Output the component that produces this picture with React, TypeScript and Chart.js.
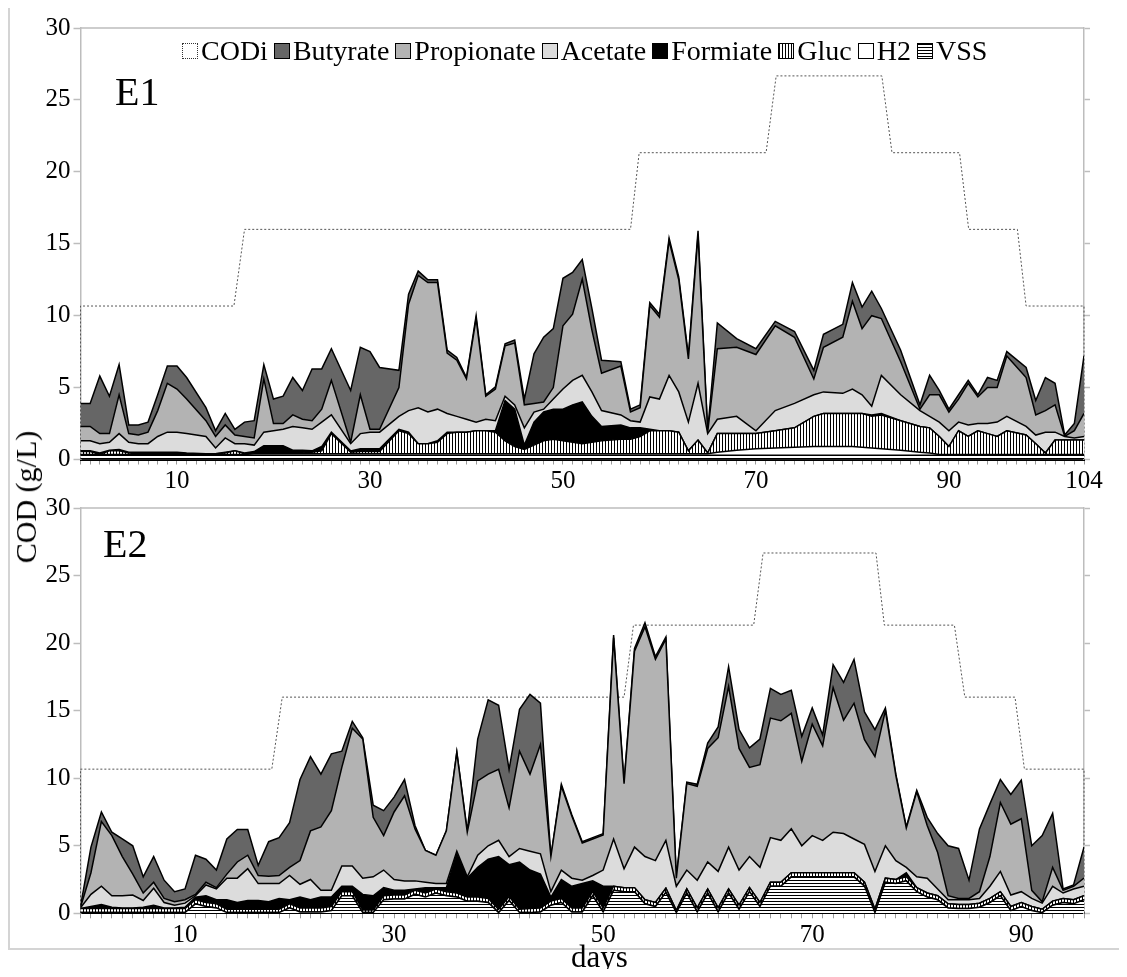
import React, { useEffect, useRef } from "react";
import { Chart, registerables } from "chart.js";
Chart.register(...registerables);

const FONT = "'Liberation Serif', 'Times New Roman', serif";

// ---------------- E1 data (days, g/L COD) ----------------
const E1_DAYS = [0,1,2,3,4,5,6,7,8,9,10,11,
  13,14,15,16,17,18,19,20,21,22,23,24,25,26,
  28,29,30,31,
  33,34,35,36,37,38,39,40,41,42,43,44,45,46,47,48,49,50,51,52,53,54,
  56,57,58,59,60,61,62,63,64,65,66,
  68,70,72,74,76,77,
  79,80,81,82,83,
  85,
  87,88,89,90,91,92,93,94,95,96,
  98,99,100,101,102,103,104];
const E1_VSS = [0.3,0.3,0.3,0.3,0.3,0.3,0.3,0.3,0.3,0.3,0.3,0.3,
  0.3,0.3,0.3,0.3,0.3,0.3,0.3,0.3,0.3,0.3,0.3,0.3,0.3,0.3,
  0.3,0.3,0.3,0.3,
  0.3,0.3,0.3,0.3,0.3,0.3,0.3,0.3,0.3,0.3,0.3,0.3,0.3,0.3,0.3,0.3,0.3,0.3,0.3,0.3,0.3,0.3,
  0.3,0.3,0.3,0.3,0.3,0.3,0.3,0.3,0.3,0.3,0.3,
  0.3,0.3,0.3,0.3,0.3,0.3,
  0.3,0.3,0.3,0.3,0.3,
  0.3,
  0.3,0.3,0.3,0.3,0.3,0.3,0.3,0.3,0.3,0.3,
  0.3,0.3,0.3,0.3,0.3,0.3,0.3];
const E1_H2 = [0.05,0.05,0.05,0.05,0.05,0.05,0.05,0.05,0.05,0.05,0.05,0.05,
  0.05,0.05,0.05,0.05,0.05,0.1,0.1,0.1,0.1,0.1,0.1,0.1,0.1,0.1,
  0.1,0.1,0.1,0.1,
  0.1,0.1,0.1,0.1,0.1,0.1,0.1,0.1,0.1,0.1,0.1,0.1,0.1,0.1,0.1,0.1,0.1,0.1,0.1,0.1,0.1,0.1,
  0.1,0.1,0.1,0.1,0.1,0.1,0.1,0.1,0.1,0.1,0.2,
  0.35,0.45,0.5,0.55,0.6,0.6,
  0.6,0.6,0.55,0.5,0.45,
  0.35,
  0.2,0.15,0.05,0.05,0.05,0.05,0.05,0.05,0.05,0.05,
  0.05,0.05,0.05,0.05,0.05,0.05,0.05];
const E1_GLUC = [0.2,0.2,0,0.25,0.25,0.1,0.05,0.05,0.05,0.05,0.05,0.05,
  0.05,0.05,0.1,0.25,0.05,0.05,0.05,0.05,0.05,0.05,0.05,0.1,0.2,1.4,
  0.1,0.15,0.15,0.15,
  1.6,1.4,0.7,0.7,0.8,1.4,1.5,1.5,1.6,1.6,1.5,0.9,0.5,0.3,0.6,0.9,1.0,0.9,0.8,0.7,0.8,0.9,
  1.0,1.0,1.2,1.6,1.6,1.6,1.5,0.2,0.95,0.05,1.3,
  1.15,1.05,1.2,1.35,2.1,2.3,
  2.3,2.3,2.35,2.2,2.35,
  2.05,
  1.8,1.75,1.25,0.55,1.65,1.25,1.65,1.45,1.25,1.65,
  1.35,0.75,0.1,1.0,1.0,1.0,1.0];
const E1_FORMIATE = [0.05,0.05,0.1,0.05,0.1,0.05,0.1,0.1,0.1,0.1,0.1,0.05,
  0,0,0.05,0,0.05,0.1,0.5,0.5,0.5,0.2,0.2,0.1,0.3,0.1,
  0.1,0.2,0.2,0.2,
  0.1,0.1,0,0,0.1,0.1,0,0,0,0,0.1,2.8,2.6,0.3,1.6,2.0,2.1,2.2,2.6,2.9,1.8,1.0,
  1.0,0.8,0.6,0.1,0,0,0,0,0,0,0,
  0,0,0,0,0,0,
  0,0,0,0.1,0.1,
  0,
  0,0,0,0,0,0,0,0,0,0,
  0,0,0,0,0,0,0];
const E1_ACETATE = [0.7,0.7,0.65,0.55,1.1,0.7,0.6,0.6,1.1,1.4,1.4,1.35,
  1.2,0.4,1.0,0.5,0.65,0.45,0.95,1.05,1.15,1.65,1.55,1.5,1.7,1.2,
  0.5,1.05,1.15,1.15,
  0.9,1.5,2.5,2.2,2.2,1.3,1.1,0.9,0.6,0.8,0.7,0.3,0.3,1.2,0.7,0.2,0.7,1.4,1.7,1.85,1.7,1.1,
  0.7,0.5,0.4,2.25,2.2,3.85,2.8,2.0,3.95,1.35,1.0,
  1.2,0.2,1.4,1.7,1.5,1.5,
  1.4,1.7,1.3,0.6,2.65,
  1.8,
  1.1,0.8,1.0,1.1,0.6,0.8,0.5,0.7,1.0,1.0,
  0.6,0.6,1.45,0.55,0.25,0.15,0.25];
const E1_PROPIONATE = [1.0,1.0,0.7,0.6,2.7,0.6,0.6,0.8,1.8,3.4,3.0,2.4,
  1.1,0.8,0.9,0.6,0.5,0.5,3.7,0.5,0.4,0.8,0.6,0.6,0.9,2.4,
  0.1,2.7,0.2,0.2,
  2.0,7.4,9.2,9.0,8.8,4.2,3.9,2.8,7.2,1.6,2.2,3.5,4.3,1.6,0.6,0.5,0.8,4.4,4.6,6.7,4.3,2.6,
  3.4,0.6,1.0,6.35,5.7,9.35,7.8,4.4,10.3,0.1,4.9,
  4.8,5.3,5.9,4.6,1.1,3.1,
  3.9,6.1,4.6,6.3,3.95,
  2.3,
  0.1,1.5,1.9,1.3,1.6,2.9,1.85,2.5,2.4,4.2,
  3.4,1.4,1.5,1.9,0,0.5,1.6];
const E1_BUTYRATE = [1.6,1.6,4.0,2.6,2.1,0.6,0.7,0.7,1.1,1.2,1.6,1.5,
  0.9,0.4,0.8,0.4,1.0,1.2,1.0,1.7,1.9,2.6,2.0,3.6,2.8,2.2,
  3.6,3.3,5.4,4.3,
  1.2,0.7,0.3,0.2,0.2,0.2,0.2,0.1,0.2,0.1,0.15,0.15,0.2,0.4,3.45,4.5,4.1,3.3,2.9,1.35,1.5,0.9,
  0.3,0.2,0.2,0.2,0.2,0.2,0.2,0.2,0.3,0.1,1.8,
  0.6,0.4,0.3,0.4,0.6,0.9,
  0.9,1.3,1.5,1.7,0.7,
  0.8,
  0.3,1.35,0.3,0.2,0.3,0.2,0.15,0.7,0.5,0.3,
  0.7,1.0,2.3,1.5,0.1,0.5,4.0];
const E1_CODI_DAYS = [0,0,15.9,17,57,57.9,71.05,72.1,83.05,84.1,91.1,92.05,97.1,98,104,104];
const E1_CODI = [0,10.67,10.67,16,16,21.33,21.33,26.67,26.67,21.33,21.33,16,16,10.67,10.67,0];
const E1_X_LABELS = [10, 30, 50, 70, 90, 104];

// ---------------- E2 data ----------------
const E2_DAYS = [0,1,2,3,4,5,6,7,8,9,
  10,11,12,13,14,15,16,17,18,19,
  20,21,22,23,24,25,26,27,28,29,
  30,31,32,33,34,35,36,37,38,39,
  40,41,42,43,44,45,46,47,48,49,
  50,51,52,53,54,55,56,57,58,59,
  60,61,62,63,64,65,66,67,68,69,
  70,71,72,73,74,75,76,77,78,79,
  80,81,82,83,84,85,86,87,88,89,
  90,91,92,93,94,95,96];
const E2_VSS = [0.05,0.05,0.05,0.05,0.05,0.05,0.05,0.05,0.05,0.05,
  0.05,0.7,0.5,0.4,0.05,0.05,0.05,0.05,0.05,0.05,
  0.4,0.1,0.1,0.1,0.2,1.3,1.3,0.05,0.05,1.0,
  1.05,1.05,1.4,1.2,1.5,1.3,1.2,0.9,0.9,0.8,
  0.05,0.95,0.05,0.05,0.1,0.6,0.8,0.1,0.1,1.3,
  0.1,1.7,1.6,1.6,0.7,0.5,1.55,0.05,1.5,0.1,
  1.5,0.1,1.5,0.3,1.6,0.5,2.0,2.0,2.7,2.7,
  2.7,2.7,2.7,2.7,2.7,2.0,0.05,2.3,2.2,2.4,
  1.6,1.2,1.0,0.4,0.35,0.35,0.45,0.8,1.3,0.2,
  0.5,0.2,0.05,0.6,0.8,0.7,1.0];
const E2_H2 = [0,0,0,0,0,0,0,0,0,0,
  0,0,0,0,0,0,0,0,0,0,
  0,0,0,0,0,0,0,0,0,0,
  0,0,0,0,0,0,0,0,0,0,
  0,0,0,0,0,0,0,0,0,0,
  0,0,0,0,0,0,0,0,0,0,
  0,0,0,0,0,0,0,0,0,0,
  0,0,0,0,0,0,0,0,0,0,
  0,0,0,0,0,0,0,0,0,0,
  0,0,0,0,0,0,0];
const E2_GLUC = [0.3,0.3,0.3,0.3,0.3,0.3,0.3,0.3,0.3,0.3,
  0.3,0.3,0.3,0.3,0.25,0.25,0.25,0.25,0.25,0.25,
  0.3,0.3,0.3,0.3,0.3,0.3,0.3,0.2,0.2,0.3,
  0.3,0.3,0.3,0.3,0.3,0.3,0.3,0.3,0.3,0.3,
  0.25,0.3,0.25,0.3,0.3,0.3,0.3,0.3,0.3,0.3,
  0.3,0.3,0.3,0.3,0.3,0.3,0.3,0.15,0.3,0.3,
  0.3,0.3,0.3,0.3,0.3,0.3,0.3,0.3,0.3,0.3,
  0.3,0.3,0.3,0.3,0.3,0.3,0.25,0.3,0.3,0.3,
  0.3,0.3,0.3,0.3,0.3,0.3,0.3,0.3,0.3,0.3,
  0.3,0.3,0.25,0.3,0.3,0.3,0.3];
const E2_FORMIATE = [0,0.15,0.3,0.1,0.05,0.05,0.1,0.25,0.05,0.05,
  0.1,0.2,0.5,0.3,0.7,0.5,0.65,0.65,0.55,0.8,
  0.3,0.8,0.6,0.8,0.7,0.4,0.4,1.15,1.05,0.6,
  0.35,0.35,0.1,0.4,0.1,0.3,2.9,1.4,2.2,2.9,
  3.9,2.35,3.5,2.85,2.5,0.3,1.4,1.6,1.8,0.8,
  1.6,0,0,0,0,0,0,0,0,0,
  0,0,0,0,0,0,0,0,0,0,
  0,0,0,0,0,0,0,0,0,0.3,
  0,0,0,0,0,0,0,0,0,0,
  0,0,0,0,0,0,0];
const E2_ACETATE = [0.05,0.9,1.35,0.85,0.9,0.95,0.5,1.25,0.4,0.2,
  0.3,0.1,0.8,0.8,1.6,1.8,2.35,1.25,1.35,1.1,
  1.8,0.95,1.5,0.5,0.5,1.5,1.5,1.2,1.4,1.3,
  0.8,0.7,0.6,0.4,0.3,0.3,0.2,0.1,0.9,1.0,
  1.2,0.6,1.0,1.4,1.5,0.4,0.7,0.6,0.25,0.4,
  1.2,3.5,1.4,3.0,3.2,3.1,3.55,1.8,1.4,2.05,
  2.0,2.7,3.1,2.6,2.3,2.6,3.3,3.1,3.25,2.0,
  2.75,2.4,3.0,2.9,2.5,2.8,2.8,2.4,1.4,0.4,
  0.8,1.1,0.5,0.3,0.35,0.35,0.35,0.9,1.5,0.85,
  0.8,0.6,0.45,1.1,0.4,0.8,0.7];
const E2_PROPIONATE = [0.05,1.6,4.8,4.45,2.9,1.55,0.55,0.45,0.3,0.25,
  0.25,0.1,0.2,0.1,0.3,1.2,1.0,0.6,0.55,0.6,
  0.6,1.75,3.6,4.7,5.9,7.3,10.2,10.3,4.4,2.55,
  5.0,6.3,3.85,2.35,2.1,3.9,7.3,3.3,5.5,5.3,
  5.25,3.6,7.2,5.7,8.1,2.6,6.2,4.6,2.75,2.7,
  2.6,14.9,6.3,14.5,17.0,14.9,14.9,0.6,6.4,6.95,
  8.4,9.9,11.9,9.0,6.6,7.6,8.85,8.85,8.55,6.25,
  8.25,7.0,10.7,8.4,10.05,7.75,8.5,10.0,6.3,2.9,
  6.3,3.9,2.7,0.3,0.1,0.1,0.5,2.2,5.1,5.25,
  5.4,0.6,0.1,1.4,0.2,0.2,0.6];
const E2_BUTYRATE = [0.05,1.9,0.7,0.25,1.3,2.1,1.2,1.9,1.35,0.75,
  0.8,2.9,1.7,1.3,2.6,2.4,1.9,0.75,2.55,2.8,
  3.3,6.0,5.5,3.9,4.2,1.2,0.5,0.1,0.9,1.85,
  1.1,1.2,0.25,0,0,0,0.05,0.1,3.1,5.5,
  4.75,2.85,3.1,5.9,3.05,0,0.15,0.1,0.1,0.1,
  0.1,0.2,0.1,0.2,0.3,0.2,0.15,0.1,0.1,0.15,
  0.4,0.8,1.45,1.4,1.45,1.9,2.2,1.95,1.7,1.85,
  1.2,0.8,1.7,2.8,3.25,2.05,2.0,0.2,0.1,0.1,
  0.1,0.6,1.4,3.7,3.7,1.35,4.65,3.9,1.7,2.2,
  2.85,3.3,4.9,4.0,0.1,0.1,2.3];
const E2_CODI_DAYS = [0,0,18.3,19.3,52,52.9,64.4,65.3,76.1,76.9,83.6,84.6,89.4,90.3,96,96];
const E2_CODI = [0,10.67,10.67,16,16,21.33,21.33,26.67,26.67,21.33,21.33,16,16,10.67,10.67,0];
const E2_X_LABELS = [10, 30, 50, 70, 90];

const Y_TICKS = [0, 5, 10, 15, 20, 25, 30];

// ---------------- styles ----------------
const COLORS: Record<string, string> = {
  Butyrate: "#666666",
  Propionate: "#b3b3b3",
  Acetate: "#dcdcdc",
  Formiate: "#000000",
  H2: "#ffffff",
};
const FRAME = "#bdbdbd";

function stripe(kind: "v" | "h"): CanvasPattern {
  const c = document.createElement("canvas");
  c.width = 3;
  c.height = 3;
  const g = c.getContext("2d")!;
  g.fillStyle = "#ffffff";
  g.fillRect(0, 0, 3, 3);
  g.fillStyle = "#000000";
  if (kind === "v") g.fillRect(0, 0, 1, 3);
  else g.fillRect(0, 0, 3, 1);
  return g.createPattern(c, "repeat")!;
}

type Panel = {
  days: number[];
  vss: number[]; h2: number[]; gluc: number[]; form: number[];
  acet: number[]; prop: number[]; but: number[];
  codiDays: number[]; codi: number[];
  xMax: number; xLabels: number[];
};

const E1: Panel = {
  days: E1_DAYS, vss: E1_VSS, h2: E1_H2, gluc: E1_GLUC, form: E1_FORMIATE,
  acet: E1_ACETATE, prop: E1_PROPIONATE, but: E1_BUTYRATE,
  codiDays: E1_CODI_DAYS, codi: E1_CODI, xMax: 104, xLabels: E1_X_LABELS,
};
const E2: Panel = {
  days: E2_DAYS, vss: E2_VSS, h2: E2_H2, gluc: E2_GLUC, form: E2_FORMIATE,
  acet: E2_ACETATE, prop: E2_PROPIONATE, but: E2_BUTYRATE,
  codiDays: E2_CODI_DAYS, codi: E2_CODI, xMax: 96, xLabels: E2_X_LABELS,
};

type Geom = { w: number; h: number; padTop: number; xAxisH: number; yAxisW: number; padRight: number };

const framePlugin = {
  id: "topFrame",
  afterDraw(chart: any) {
    const { ctx, chartArea: a } = chart;
    ctx.save();
    ctx.strokeStyle = FRAME;
    ctx.lineWidth = 1.5;
    ctx.beginPath();
    ctx.moveTo(a.left, a.top);
    ctx.lineTo(a.right, a.top);
    ctx.stroke();
    ctx.restore();
  },
};

function makeChart(canvas: HTMLCanvasElement, p: Panel, g: Geom) {
  const vPat = stripe("v");
  const hPat = stripe("h");
  const series = [
    { label: "VSS", values: p.vss, bg: hPat as any },
    { label: "H2", values: p.h2, bg: COLORS.H2 },
    { label: "Gluc", values: p.gluc, bg: vPat as any },
    { label: "Formiate", values: p.form, bg: COLORS.Formiate },
    { label: "Acetate", values: p.acet, bg: COLORS.Acetate },
    { label: "Propionate", values: p.prop, bg: COLORS.Propionate },
    { label: "Butyrate", values: p.but, bg: COLORS.Butyrate },
  ];
  const datasets: any[] = series.map((s, i) => ({
    label: s.label,
    data: p.days.map((d, j) => ({ x: d, y: s.values[j] })),
    backgroundColor: s.bg,
    borderColor: "#000000",
    borderWidth: 1.5,
    pointRadius: 0,
    tension: 0,
    fill: i === 0 ? "origin" : "-1",
    stack: "cod",
    order: 0,
  }));
  datasets.push({
    label: "CODi",
    data: p.codiDays.map((d, j) => ({ x: d, y: p.codi[j] })),
    borderColor: "#555555",
    borderWidth: 1,
    borderDash: [2, 2],
    pointRadius: 0,
    tension: 0,
    fill: false,
    stack: "codi",
    order: 1,
    clip: 3,
  });

  const tickFont = { family: FONT, size: 25 };
  const xTickValues: number[] = [];
  for (let v = 0; v <= p.xMax; v++) xTickValues.push(v);

  return new Chart(canvas, {
    type: "line",
    data: { datasets },
    plugins: [framePlugin],
    options: {
      responsive: false,
      animation: false,
      events: [],
      layout: { padding: { top: g.padTop, right: g.padRight, left: 0, bottom: 0 } },
      plugins: { legend: { display: false }, tooltip: { enabled: false } },
      scales: {
        x: {
          type: "linear",
          min: 0,
          max: p.xMax,
          afterBuildTicks: (axis: any) => {
            axis.ticks = xTickValues.map((v) => ({ value: v }));
          },
          afterFit: (s: any) => {
            s.height = g.xAxisH;
          },
          ticks: {
            autoSkip: false,
            maxRotation: 0,
            minRotation: 0,
            color: "#000000",
            font: tickFont,
            padding: 2,
            callback: (v: any) => (p.xLabels.includes(Number(v)) ? String(v) : ""),
          },
          grid: { drawOnChartArea: false, tickLength: 5, color: "#9a9a9a", tickWidth: 1 },
          border: { color: "#000000", width: 2 },
        },
        y: {
          type: "linear",
          position: "left",
          min: 0,
          max: 30,
          stacked: true,
          afterBuildTicks: (axis: any) => {
            axis.ticks = Y_TICKS.map((v) => ({ value: v }));
          },
          afterFit: (s: any) => {
            s.width = g.yAxisW;
          },
          ticks: { color: "#000000", font: tickFont, padding: 3 },
          grid: { drawOnChartArea: false, tickLength: 7, color: FRAME, tickWidth: 1.5 },
          border: { color: FRAME, width: 1.5 },
        },
        y2: {
          type: "linear",
          position: "right",
          min: 0,
          max: 30,
          afterBuildTicks: (axis: any) => {
            axis.ticks = Y_TICKS.map((v) => ({ value: v }));
          },
          afterFit: (s: any) => {
            s.width = 6;
          },
          ticks: { display: false },
          grid: { drawOnChartArea: false, tickLength: 6, color: FRAME, tickWidth: 1.5 },
          border: { color: FRAME, width: 1.5 },
        },
      },
    } as any,
  });
}

function PanelChart({ panel, top, geom }: { panel: Panel; top: number; geom: Geom }) {
  const ref = useRef<HTMLCanvasElement>(null);
  useEffect(() => {
    const chart = makeChart(ref.current!, panel, geom);
    return () => chart.destroy();
  }, []);
  return (
    <canvas
      ref={ref}
      width={geom.w}
      height={geom.h}
      style={{ position: "absolute", left: 0, top, width: geom.w, height: geom.h }}
    />
  );
}

const LEGEND_ITEMS = ["CODi", "Butyrate", "Propionate", "Acetate", "Formiate", "Gluc", "H2", "VSS"];

function legendBox(label: string): React.CSSProperties {
  const base: React.CSSProperties = {
    display: "inline-block",
    width: 16,
    height: 16,
    boxSizing: "border-box",
    border: "1px solid #000",
    marginRight: 3,
    background: "#fff",
  };
  if (label === "CODi") return { ...base, border: "1px dotted #333" };
  if (label === "Gluc")
    return { ...base, background: "repeating-linear-gradient(90deg, #000 0px, #000 1px, #fff 1px, #fff 3px)" };
  if (label === "VSS")
    return { ...base, background: "repeating-linear-gradient(180deg, #000 0px, #000 1px, #fff 1px, #fff 3px)" };
  return { ...base, background: COLORS[label] };
}

function Legend() {
  return (
    <div
      style={{
        position: "absolute",
        left: 174,
        top: 29,
        display: "flex",
        alignItems: "center",
        fontFamily: FONT,
        fontSize: 28,
        lineHeight: "28px",
        whiteSpace: "nowrap",
        color: "#000",
      }}
    >
      {LEGEND_ITEMS.map((l) => (
        <span key={l} style={{ display: "inline-flex", alignItems: "center", marginRight: 6 }}>
          <span style={legendBox(l)} />
          {l}
        </span>
      ))}
    </div>
  );
}

export default function App() {
  const g1: Geom = { w: 1119, h: 482, padTop: 20, xAxisH: 30.5, yAxisW: 72.5, padRight: 37 };
  const g2: Geom = { w: 1119, h: 459, padTop: 15, xAxisH: 35.7, yAxisW: 72.5, padRight: 37 };
  const text: React.CSSProperties = { position: "absolute", fontFamily: FONT, color: "#000", whiteSpace: "nowrap", lineHeight: 1 };
  return (
    <div style={{ position: "relative", width: 1119, height: 961 }}>
      <div style={{ position: "absolute", left: 0, top: -8, width: 1.5, height: 948, background: "#d4d4d4" }} />
      <div style={{ position: "absolute", left: 0, top: 940, width: 1119, height: 1.5, background: "#d4d4d4" }} />
      <PanelChart panel={E1} top={0} geom={g1} />
      <PanelChart panel={E2} top={482} geom={g2} />
      <Legend />
      <div style={{ ...text, left: 107, top: 64, fontSize: 40 }}>E1</div>
      <div style={{ ...text, left: 95, top: 516, fontSize: 40 }}>E2</div>
      <div style={{ ...text, left: 563, top: 933, fontSize: 31 }}>days</div>
      <div
        style={{
          ...text,
          left: 18,
          top: 489,
          fontSize: 30,
          transform: "translate(-50%, -50%) rotate(-90deg)",
        }}
      >
        COD (g/L)
      </div>
    </div>
  );
}
